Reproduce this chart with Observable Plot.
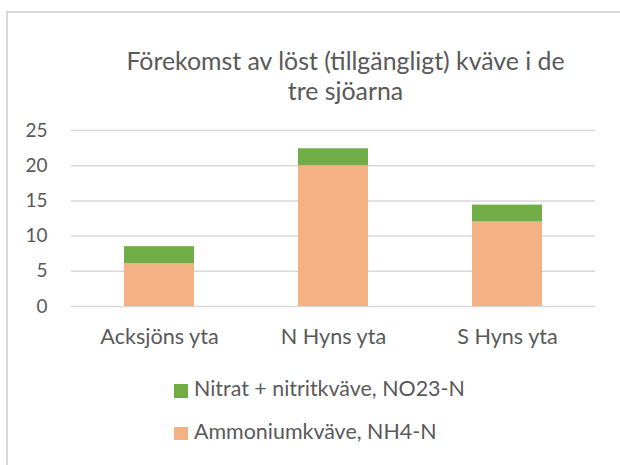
<!DOCTYPE html>
<html>
<head>
<meta charset="utf-8">
<script src="https://cdn.jsdelivr.net/npm/d3@7"></script>
<script src="https://cdn.jsdelivr.net/npm/@observablehq/plot@0.6"></script>
<style>
  html, body { margin: 0; padding: 0; background: #fff; }
  body { width: 620px; height: 465px; position: relative; overflow: hidden; font-family: Lato, "Open Sans", sans-serif; color: #595959; }
  .abs { position: absolute; white-space: nowrap; }
</style>
</head>
<body>
<div id="root"></div>
<script>
// ---- data ----
const titleLines = ["Förekomst av löst (tillgängligt) kväve i de", "tre sjöarna"];
const sites = ["Acksjöns yta", "N Hyns yta", "S Hyns yta"];
const seriesNames = ["Ammoniumkväve, NH4-N", "Nitrat + nitritkväve, NO23-N"];
const nh4Values = [6.1, 20.0, 12.0];
const no23Values = [2.4, 2.4, 2.4];
const yTicks = [0, 5, 10, 15, 20, 25];
const seriesColors = ["#F4B183", "#70AD47"];

const rows = [];
sites.forEach((s, i) => {
  rows.push({site: s, series: seriesNames[0], value: nh4Values[i]});
  rows.push({site: s, series: seriesNames[1], value: no23Values[i]});
});

// ---- font sizing: fit text to measured widths of the reference ----
const FONT = "Lato";
const ctx = document.createElement("canvas").getContext("2d");
function fit(text, target) {
  ctx.font = `100px ${FONT}`;
  return 100 * target / ctx.measureText(text).width;
}
const titleSize = fit(titleLines[0], 439);
const xSize = fit(sites[0], 119);
const ySize = fit("25", 22);
const legendSize = fit(seriesNames[1], 271);

const root = document.getElementById("root");
function addText(text, size, baseline, opts = {}) {
  const d = document.createElement("div");
  d.className = "abs";
  d.textContent = text;
  d.style.fontSize = size + "px";
  d.style.lineHeight = size + "px";
  d.style.top = (baseline - 0.887 * size) + "px";
  if (opts.center != null) {
    d.style.left = "0px";
    d.style.width = (2 * opts.center) + "px";
    d.style.textAlign = "center";
  } else {
    d.style.left = opts.left + "px";
  }
  root.appendChild(d);
}

// chart frame border
const frame = document.createElement("div");
frame.className = "abs";
Object.assign(frame.style, {left: "6px", top: "11px", width: "700px", height: "600px",
  borderLeft: "2px solid #d9d9d9", borderTop: "2px solid #d9d9d9"});
root.appendChild(frame);

// title
addText(titleLines[0], titleSize, 70, {center: 345.5});
addText(titleLines[1], titleSize, 100, {center: 345.5});

// plot
const chart = Plot.plot({
  width: 620,
  height: 250,
  marginTop: 20,
  marginBottom: 54,
  marginLeft: 71,
  marginRight: 25,
  style: {fontFamily: FONT, color: "#595959", background: "transparent", overflow: "visible"},
  x: {domain: sites, paddingInner: 0.6, paddingOuter: 0.3, axis: null},
  y: {domain: [0, 25], axis: null},
  color: {domain: seriesNames, range: seriesColors},
  marks: [
    Plot.ruleY(yTicks, {stroke: "#d9d9d9", strokeWidth: 1.5}),
    Plot.barY(rows, {x: "site", y: "value", fill: "series"}),
    Plot.axisX({tickSize: 0, tickPadding: 22, fontSize: xSize, label: null}),
    Plot.axisY({ticks: yTicks, tickSize: 0, tickPadding: 24, fontSize: ySize, label: null})
  ]
});
chart.style.position = "absolute";
chart.style.left = "0px";
chart.style.top = "110px";
root.appendChild(chart);

// legend (top series first, as in the reference)
const legendOrder = [1, 0];
const legendBaselines = [397.5, 440];
legendOrder.forEach((k, j) => {
  const sw = document.createElement("div");
  sw.className = "abs";
  Object.assign(sw.style, {left: "174px", top: (legendBaselines[j] - 13.5) + "px",
    width: "13.5px", height: "13.5px", background: seriesColors[k]});
  root.appendChild(sw);
  addText(seriesNames[k], legendSize, legendBaselines[j], {left: 194});
});
</script>
</body>
</html>
